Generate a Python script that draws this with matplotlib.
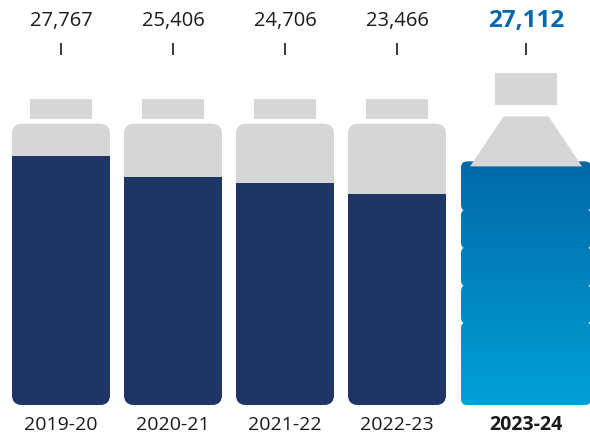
import numpy as np
import matplotlib
matplotlib.use("Agg")
import matplotlib.pyplot as plt
from matplotlib.patches import FancyBboxPatch, Rectangle, Polygon
from matplotlib.colors import LinearSegmentedColormap

plt.rcParams['font.family'] = ['Open Sans', 'DejaVu Sans']

# yearly totals
years = ["2019-20", "2020-21", "2021-22", "2022-23", "2023-24"]
values = [27767, 25406, 24706, 23466, 27112]
jar_capacity = 31300

NAVY = "#1f3566"
GREY = "#d6d6d6"
TEXT = "#1a1a1a"
BLUE = "#0868aa"

# drawing units: one pixel in x / y
PX_X = 1 / 112
PX_Y = 111.3
ASP = PX_Y / PX_X

fig = plt.figure(figsize=(5.9, 4.39), dpi=100)
ax = fig.add_axes([0, 0, 1, 1])
ax.axis("off")

xs = np.arange(len(values), dtype=float)
xs[-1] = 4.152  # last bottle is wider, pushed right

y_num = 385 * PX_Y
y_tick = (350 * PX_Y, 362 * PX_Y)
y_lab = -19 * PX_Y


def rounded(x, y, w, h, r, **kw):
    return FancyBboxPatch((x, y), w, h,
                          boxstyle=f"round,pad=0,rounding_size={r}",
                          mutation_aspect=ASP, **kw)


# jars for the earlier years
for cx, v in zip(xs[:-1], values[:-1]):
    w = 98 * PX_X
    ax.add_patch(Rectangle((cx - 31 * PX_X, jar_capacity + 5 * PX_Y), 62 * PX_X, 20 * PX_Y,
                           fc=GREY, ec="none"))
    ax.add_patch(rounded(cx - w / 2, 0, w, jar_capacity, 10 * PX_X, fc=GREY, ec="none"))
    fill = rounded(cx - w / 2, 0, w, jar_capacity, 10 * PX_X, fc=NAVY, ec="none")
    ax.add_patch(fill)
    clip = Rectangle((cx - w, -5000), 2 * w, v + 5000, transform=ax.transData)
    fill.set_clip_path(clip)

# bottle for the latest year
cx, v = xs[-1], values[-1]
w = 130 * PX_X
ax.add_patch(Rectangle((cx - 31 * PX_X, v + 56 * PX_Y), 62 * PX_X, 32 * PX_Y,
                       fc=GREY, ec="none"))
ax.add_patch(Polygon([(cx - 56 * PX_X, v - 5 * PX_Y), (cx + 56 * PX_X, v - 5 * PX_Y),
                      (cx + 22.5 * PX_X, v + 45 * PX_Y), (cx - 22.5 * PX_X, v + 45 * PX_Y)],
                     closed=True, fc=GREY, ec="none"))
cmap = LinearSegmentedColormap.from_list("water", ["#00a0d6", "#0068a8"])
grad = np.linspace(0, 1, 256).reshape(-1, 1)
bounds = np.array([0, 0.34, 0.492, 0.648, 0.803, 1.0]) * v
for k, (b0, b1) in enumerate(zip(bounds[:-1], bounds[1:])):
    # overlap neighbours a little so no seam shows between ridges
    lo = b0 - (1.5 * PX_Y if k > 0 else 0)
    seg = rounded(cx - w / 2, lo, w, b1 - lo, 6 * PX_X, fc="none", ec="none")
    ax.add_patch(seg)
    im = ax.imshow(grad, cmap=cmap, origin="lower", aspect="auto",
                   extent=[cx - w / 2, cx + w / 2, 0, v], interpolation="bilinear")
    im.set_clip_path(seg)

# value labels, ticks, year labels
for i, (cx, v, yr) in enumerate(zip(xs, values, years)):
    last = i == len(values) - 1
    ax.text(cx, y_num, f"{v:,}", ha="center", va="center",
            fontsize=17.5 if last else 14.5,
            color=BLUE if last else TEXT, fontweight="bold" if last else "normal")
    ax.plot([cx, cx], y_tick, color=TEXT, lw=1.2, solid_capstyle="butt")
    ax.text(cx, y_lab, yr, ha="center", va="center", fontsize=14, color=TEXT,
            fontweight="bold" if last else "normal")

ax.set_xlim(-61 * PX_X, 529 * PX_X)
ax.set_ylim(-33 * PX_Y, 406 * PX_Y)

fig.savefig("out.png", dpi=100)
